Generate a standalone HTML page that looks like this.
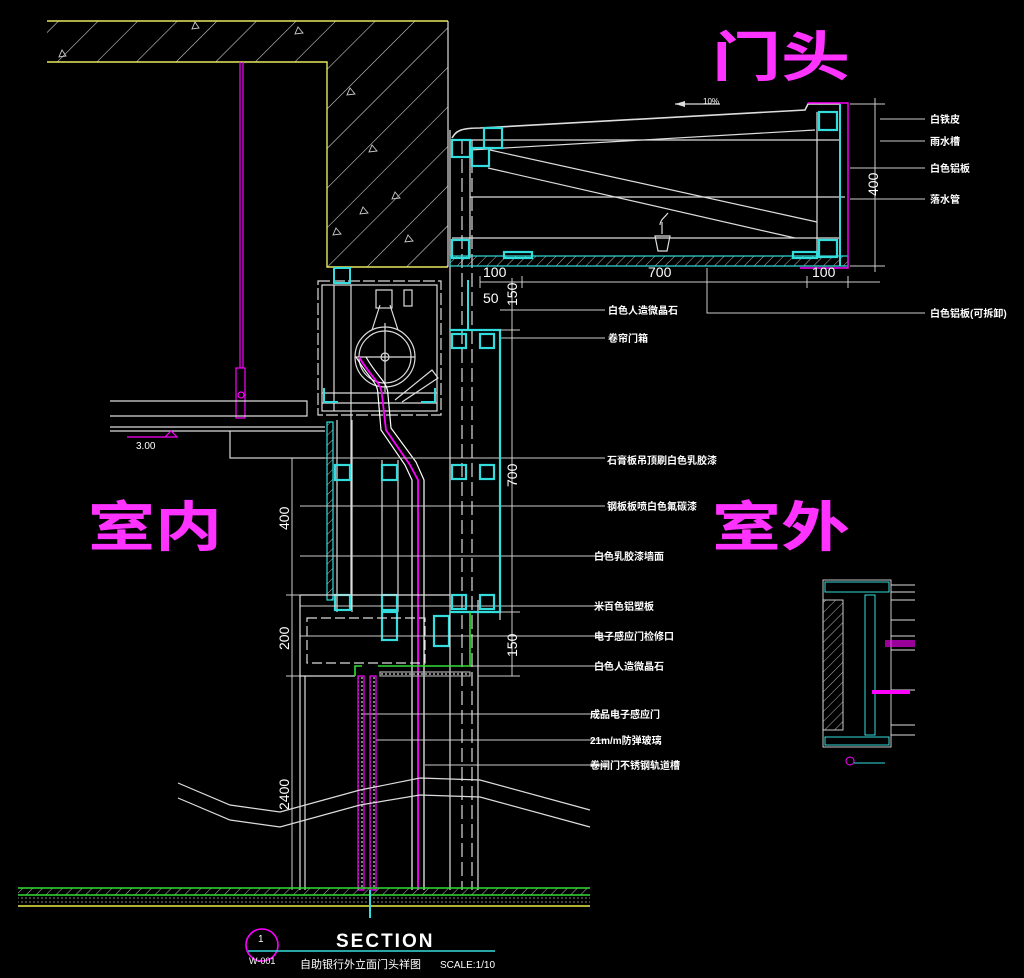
<!DOCTYPE html>
<html><head><meta charset="utf-8"><style>
html,body{margin:0;padding:0;background:#000;width:1024px;height:978px;overflow:hidden}
svg{display:block}
text{font-family:"Liberation Sans","Noto Sans CJK SC",sans-serif;fill:#fff}
</style></head><body>
<svg width="1024" height="978" viewBox="0 0 1024 978" xmlns="http://www.w3.org/2000/svg">
<defs>
<pattern id="hc" width="28" height="28" patternUnits="userSpaceOnUse" patternTransform="rotate(45)"><line x1="0" y1="0" x2="0" y2="28" stroke="#ddd" stroke-width="1.1"/></pattern>
<pattern id="hs" width="7" height="7" patternUnits="userSpaceOnUse" patternTransform="rotate(45)"><line x1="0" y1="0" x2="0" y2="7" stroke="#ccc" stroke-width="0.9"/></pattern>
<pattern id="dots" width="4" height="4" patternUnits="userSpaceOnUse"><circle cx="2" cy="2" r="0.9" fill="#ddd"/></pattern>
</defs>
<g stroke-width="1.2">
<!-- concrete -->
<path d="M47 21H448V267H327V62H47Z" fill="url(#hc)"/>
<path d="M47 21H448M47 62H327V267H448" stroke="#e8e860" stroke-width="1.4" fill="none"/>
<line x1="448" y1="21" x2="448" y2="267" stroke="#ddd"/>
<g fill="none" stroke="#ccc" stroke-width="0.9">
<path d="M62 50l4 6 -7 1z"/><path d="M195 22l4 6-7 1z"/><path d="M298 27l5 6-8 1z"/><path d="M350 88l5 6-8 1z"/><path d="M372 145l5 6-8 1z"/><path d="M395 192l5 6-8 1z"/><path d="M363 207l5 6-8 1z"/><path d="M408 235l5 6-8 1z"/><path d="M336 228l5 6-8 1z"/>
</g>

<!-- pendant -->
<line x1="240" y1="62" x2="240" y2="368" stroke="#f0f"/>
<line x1="243" y1="62" x2="243" y2="368" stroke="#f0f"/>
<rect x="236" y="368" width="9" height="50" fill="none" stroke="#f0f"/>
<circle cx="241" cy="395" r="3" fill="none" stroke="#f0f"/>
<!-- ceiling -->
<g stroke="#ddd" fill="none">
<path d="M110 401H307V416H110"/>
<path d="M110 427H325M110 431H325"/>
<path d="M230 431V458H325"/>
</g>
<line x1="127" y1="437" x2="178" y2="437" stroke="#f0f"/>
<path d="M165 437l6-6 6 6" stroke="#f0f" fill="none"/>
<text x="136" y="449" font-size="10">3.00</text>

<!-- roller box -->
<g stroke="#ddd" fill="none">
<rect x="318" y="281" width="123" height="134" stroke-dasharray="12 3"/>
<rect x="322" y="285" width="115" height="126"/>
<line x1="334" y1="285" x2="334" y2="411"/><line x1="351" y1="285" x2="351" y2="610"/>
<line x1="322" y1="393" x2="437" y2="393"/><line x1="322" y1="403" x2="437" y2="403"/>
<rect x="376" y="290" width="16" height="18"/><rect x="404" y="290" width="8" height="16"/>
<circle cx="385" cy="357" r="30"/><circle cx="385" cy="357" r="26"/><circle cx="385" cy="357" r="4"/>
<path d="M355 357H415M385 323V392M372 330L380 305M398 330L390 305"/>
<path d="M395 400L432 370L438 378L402 402"/>
</g>
<rect x="334" y="268" width="16" height="15" fill="none" stroke="#3dd" stroke-width="2"/>
<path d="M324 388v14h14M435 388v14h-14" stroke="#3dd" stroke-width="2" fill="none"/>
<!-- curtain cable -->
<path d="M356 357C370 380 378 382 378 395L381 430L405 465L412 480V890" stroke="#fff" fill="none"/>
<path d="M359 357C373 380 381 382 382 395L386 430L410 465L418 480V890" stroke="#f0f" stroke-width="1.8" fill="none"/>
<path d="M366 357C378 378 388 382 388 395L391 428L416 462L424 480V890" stroke="#fff" fill="none"/>

<!-- left interior panel -->
<rect x="327" y="422" width="6" height="178" fill="url(#hs)" stroke="#3dd"/>
<g stroke="#ddd" fill="none">
<line x1="337" y1="420" x2="337" y2="612"/><line x1="352" y1="420" x2="352" y2="612"/>
<line x1="382" y1="460" x2="382" y2="612"/><line x1="398" y1="460" x2="398" y2="612"/>
</g>
<g fill="none" stroke="#3dd" stroke-width="2.2">
<rect x="335" y="465" width="15" height="15"/><rect x="382" y="465" width="15" height="15"/>
<rect x="335" y="595" width="15" height="15"/><rect x="382" y="595" width="15" height="15"/>
<rect x="382" y="612" width="15" height="28"/>
<rect x="434" y="616" width="15" height="30"/>
</g>
<!-- long horizontals -->
<g stroke="#ccc" stroke-width="1">
<line x1="230" y1="458" x2="605" y2="458"/>
<line x1="300" y1="506" x2="605" y2="506"/>
<line x1="300" y1="556" x2="605" y2="556"/>
<line x1="300" y1="606" x2="605" y2="606"/>
<line x1="300" y1="636" x2="605" y2="636"/>
<line x1="470" y1="666" x2="605" y2="666"/>
<line x1="362" y1="714" x2="605" y2="714"/>
<line x1="376" y1="740" x2="605" y2="740"/>
<line x1="425" y1="765" x2="605" y2="765"/>
<line x1="500" y1="310" x2="605" y2="310"/>
<line x1="500" y1="338" x2="605" y2="338"/>
</g>

<!-- exterior wall column -->
<g stroke="#ddd" fill="none">
<line x1="450" y1="130" x2="450" y2="890"/>
<line x1="500" y1="330" x2="500" y2="620"/>
<line x1="478" y1="600" x2="478" y2="890"/>
<line x1="462" y1="140" x2="462" y2="890" stroke-dasharray="14 5"/>
<line x1="472" y1="140" x2="472" y2="890" stroke-dasharray="14 5"/>
</g>
<path d="M450 330H500V612H450" stroke="#3dd" stroke-width="2.2" fill="none"/>
<g fill="none" stroke="#3dd" stroke-width="2.2">
<rect x="452" y="334" width="14" height="14"/><rect x="480" y="334" width="14" height="14"/>
<rect x="452" y="465" width="14" height="14"/><rect x="480" y="465" width="14" height="14"/>
<rect x="452" y="595" width="14" height="14"/><rect x="480" y="595" width="14" height="14"/>
</g>
<path d="M468 280V330" stroke="#3dd" stroke-width="2"/>

<!-- canopy -->
<g stroke="#ddd" fill="none">
<path d="M452 138C456 132 458 128 480 128L805 110L808 104H840" stroke-width="1.6"/>
<line x1="452" y1="140" x2="840" y2="140"/>
<line x1="470" y1="150" x2="815" y2="130"/>
<line x1="470" y1="197" x2="845" y2="197"/>
<line x1="452" y1="238" x2="840" y2="238"/>
<line x1="490" y1="150" x2="817" y2="222"/>
<line x1="488" y1="168" x2="795" y2="238"/>
<line x1="470" y1="150" x2="470" y2="258"/>
<line x1="817" y1="112" x2="817" y2="258"/>
</g>
<rect x="450" y="256" width="398" height="10" fill="url(#hs)" stroke="#3dd"/>
<path d="M840 104V266" stroke="#3dd" stroke-width="2"/>
<path d="M808 103H848V268H800" stroke="#f0f" stroke-width="1.4" fill="none"/>
<g fill="none" stroke="#3dd" stroke-width="2.2">
<rect x="452" y="140" width="18" height="17"/><rect x="484" y="128" width="18" height="20"/><rect x="472" y="148" width="17" height="18"/>
<rect x="452" y="240" width="17" height="18"/><rect x="819" y="112" width="18" height="18"/><rect x="819" y="240" width="18" height="17"/>
<rect x="504" y="252" width="28" height="6"/><rect x="793" y="252" width="24" height="6"/>
</g>
<g stroke="#ddd" fill="none"><path d="M662 222v12M655 236h15l-3 15h-9zM660 225c0-5 5-8 8-12"/></g>
<line x1="675" y1="104" x2="720" y2="104" stroke="#ddd"/>
<path d="M675 104l10-3v6z" fill="#ddd"/>
<text x="703" y="104" font-size="8">10%</text>

<!-- dims -->
<g stroke="#ccc" stroke-width="1" fill="none">
<line x1="875" y1="98" x2="875" y2="272"/>
<line x1="850" y1="104" x2="885" y2="104"/><line x1="850" y1="266" x2="885" y2="266"/>
<line x1="480" y1="282" x2="880" y2="282"/>
<line x1="480" y1="276" x2="480" y2="288"/><line x1="522" y1="276" x2="522" y2="288"/><line x1="807" y1="276" x2="807" y2="288"/><line x1="848" y1="276" x2="848" y2="288"/>
<line x1="880" y1="119" x2="925" y2="119"/><line x1="880" y1="141" x2="925" y2="141"/><line x1="850" y1="168" x2="925" y2="168"/><line x1="850" y1="199" x2="925" y2="199"/>
<path d="M707 268V313H925"/>
<line x1="512" y1="278" x2="512" y2="676"/>
<line x1="500" y1="330" x2="520" y2="330"/><line x1="500" y1="612" x2="520" y2="612"/><line x1="478" y1="676" x2="520" y2="676"/>
<line x1="292" y1="458" x2="292" y2="890"/>
<line x1="286" y1="595" x2="300" y2="595"/><line x1="286" y1="676" x2="300" y2="676"/><line x1="286" y1="458" x2="300" y2="458"/>
</g>
<g font-size="14">
<text x="483" y="277">100</text><text x="648" y="277">700</text><text x="812" y="277">100</text>
<text x="483" y="303">50</text>
<text transform="translate(878,196) rotate(-90)">400</text>
<text transform="translate(517,306) rotate(-90)">150</text>
<text transform="translate(517,487) rotate(-90)">700</text>
<text transform="translate(517,657) rotate(-90)">150</text>
<text transform="translate(289,530) rotate(-90)">400</text>
<text transform="translate(289,650) rotate(-90)">200</text>
<text transform="translate(289,810) rotate(-90)">2400</text>
</g>

<!-- lower box -->
<g stroke="#ddd" fill="none">
<path d="M300 595H450M300 595V676H355"/>
<rect x="307" y="618" width="118" height="45" stroke-dasharray="10 4"/>
<path d="M300 890V676M305 890V676"/>
</g>
<path d="M355 676V666H362M378 666H470V612" stroke="#3d3" stroke-width="1.6" fill="none"/>
<rect x="380" y="672" width="90" height="4" fill="url(#dots)" stroke="#aaa"/>
<rect x="358" y="676" width="6" height="214" fill="url(#dots)" stroke="#f0f"/>
<rect x="370" y="676" width="6" height="214" fill="url(#dots)" stroke="#f0f"/>

<!-- break lines -->
<path d="M178 783L230 805L280 812L360 790L420 778L480 780L590 810" stroke="#ddd" fill="none"/>
<path d="M178 798L230 820L280 827L360 805L420 795L480 797L590 827" stroke="#ddd" fill="none"/>

<!-- floor -->
<rect x="18" y="888" width="572" height="7" fill="url(#hs)"/>
<line x1="18" y1="888" x2="590" y2="888" stroke="#3d3" stroke-width="1.5"/>
<line x1="18" y1="895" x2="590" y2="895" stroke="#3d3" stroke-width="1.5"/>
<rect x="18" y="896" width="572" height="9" fill="url(#dots)" opacity="0.5"/>
<line x1="18" y1="906" x2="590" y2="906" stroke="#ee4" stroke-width="1.4"/>
<line x1="370" y1="890" x2="370" y2="918" stroke="#3dd" stroke-width="2"/>
</g>

<!-- labels -->
<g font-size="10" font-weight="bold">
<text x="930" y="123">白铁皮</text><text x="930" y="145">雨水槽</text><text x="930" y="172">白色铝板</text><text x="930" y="203">落水管</text>
<text x="930" y="317">白色铝板(可拆卸)</text>
<text x="608" y="314">白色人造微晶石</text><text x="608" y="342">卷帘门箱</text>
<text x="607" y="464">石膏板吊顶刷白色乳胶漆</text><text x="607" y="510">钢板板喷白色氟碳漆</text>
<text x="594" y="560">白色乳胶漆墙面</text><text x="594" y="610">米百色铝塑板</text>
<text x="594" y="640">电子感应门检修口</text><text x="594" y="670">白色人造微晶石</text>
<text x="590" y="718">成品电子感应门</text><text x="590" y="744">21m/m防弹玻璃</text><text x="590" y="769">卷闸门不锈钢轨道槽</text>
</g>
<g font-size="54" font-weight="bold">
<text x="712" y="76" textLength="138" lengthAdjust="spacingAndGlyphs" font-family="'Noto Sans CJK SC',sans-serif" style="fill:#f3f">门头</text>
<text x="88" y="546" textLength="134" lengthAdjust="spacingAndGlyphs" font-family="'Noto Sans CJK SC',sans-serif" style="fill:#f3f">室内</text>
<text x="712" y="546" textLength="138" lengthAdjust="spacingAndGlyphs" font-family="'Noto Sans CJK SC',sans-serif" style="fill:#f3f">室外</text>
</g>

<!-- small detail -->
<g stroke="#ddd" fill="none" stroke-width="0.9">
<rect x="823" y="580" width="68" height="167"/>
<rect x="823" y="600" width="20" height="130" fill="url(#hs)"/>
<path d="M891 585H915M891 592H915M891 600H915M891 620H915M891 636H915M891 650H915M891 690H915M891 725H915M891 735H915"/>
</g>
<g stroke="#3dd" fill="none"><rect x="825" y="582" width="64" height="10"/><rect x="825" y="737" width="64" height="8"/><rect x="865" y="595" width="10" height="140"/></g>
<rect x="885" y="640" width="30" height="7" fill="#f0f" opacity="0.6"/>
<rect x="872" y="690" width="38" height="4" fill="#f0f"/>
<circle cx="850" cy="761" r="4" stroke="#f0f" fill="none"/>
<line x1="854" y1="763" x2="885" y2="763" stroke="#3dd"/>

<!-- title -->
<circle cx="262" cy="945" r="16" stroke="#f0f" stroke-width="1.6" fill="none"/>
<line x1="248" y1="951" x2="495" y2="951" stroke="#3dd" stroke-width="1.4"/>
<text x="258" y="942" font-size="10">1</text>
<text x="249" y="964" font-size="9">W-001</text>
<text x="336" y="947" font-size="19" font-weight="bold" letter-spacing="2">SECTION</text>
<text x="300" y="968" font-size="11">自助银行外立面门头祥图</text>
<text x="440" y="968" font-size="10">SCALE:1/10</text>
</svg>
</body></html>
